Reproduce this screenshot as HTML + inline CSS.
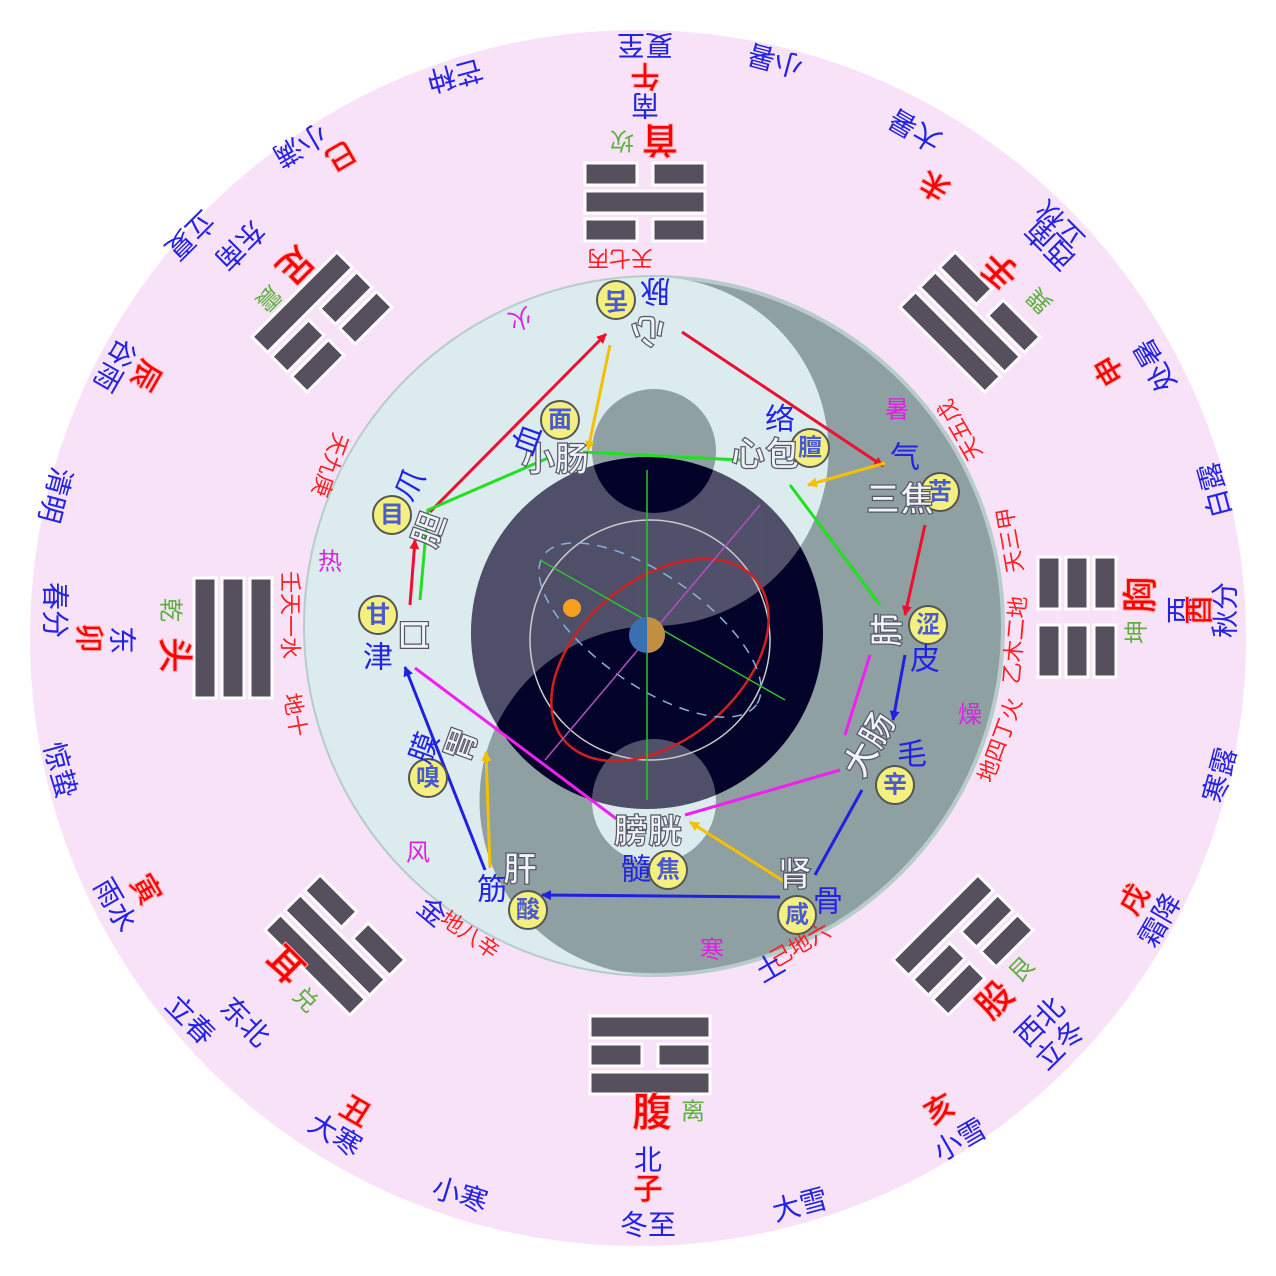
<!DOCTYPE html>
<html><head><meta charset="utf-8"><style>
html,body{margin:0;padding:0;background:#fff;}
svg{display:block;}
text{font-family:"Liberation Sans","Noto Sans CJK SC",sans-serif;}
.t{fill:#2323e6;font-size:28px;}
.b{fill:#ff0000;font-size:30px;font-weight:bold;stroke:#ffb0b0;stroke-width:1;}
.g{fill:#5fb040;font-size:24px;}
.m{fill:#e020e0;font-size:24px;}
.s{fill:#f0f4f8;font-size:34px;font-weight:bold;stroke:#556;stroke-width:1.2;}
.bd{fill:#f4f080;stroke:#555;stroke-width:2;}
.bt{fill:#4a5ad0;font-size:24px;font-weight:bold;}
.r2{fill:#ff2020;font-size:22px;}
</style></head><body>
<svg width="1276" height="1276" viewBox="0 0 1276 1276" xmlns="http://www.w3.org/2000/svg">
<defs>
<marker id="ar" markerWidth="10" markerHeight="10" refX="9" refY="5" orient="auto" markerUnits="userSpaceOnUse" viewBox="0 0 10 10"><path d="M0,0 L10,5 L0,10z" fill="#ee1030"/></marker>
<marker id="ay" markerWidth="10" markerHeight="10" refX="9" refY="5" orient="auto" viewBox="0 0 10 10" markerUnits="userSpaceOnUse"><path d="M0,0 L10,5 L0,10z" fill="#f5c000"/></marker>
<marker id="ab" markerWidth="10" markerHeight="10" refX="9" refY="5" orient="auto" viewBox="0 0 10 10" markerUnits="userSpaceOnUse"><path d="M0,0 L10,5 L0,10z" fill="#2020e0"/></marker>
<g id="full"><rect x="-60" y="-11" width="120" height="22" fill="#56505e" stroke="#fff" stroke-width="3"/></g>
<g id="brk"><rect x="-60" y="-11" width="52" height="22" fill="#56505e" stroke="#fff" stroke-width="3"/><rect x="8" y="-11" width="52" height="22" fill="#56505e" stroke="#fff" stroke-width="3"/></g>
<clipPath id="cc"><circle cx="647" cy="633" r="176"/></clipPath>
</defs>
<circle cx="638" cy="638" r="608" fill="#f8e2f8"/>
<circle cx="654" cy="626" r="349" fill="#8fa0a2" stroke="#b8cccc" stroke-width="4"/>
<path d="M654,277 A349,349 0 0 0 654,975 A174.5,174.5 0 0 1 654,626 A174.5,174.5 0 0 0 654,277Z" fill="#dcecee"/>
<circle cx="654" cy="451" r="62" fill="#8fa0a2"/>
<circle cx="654" cy="801" r="62" fill="#dcecee"/>
<circle cx="647" cy="633" r="176" fill="#04042a"/>
<g clip-path="url(#cc)" opacity="0.3">
<path d="M654,277 A349,349 0 0 0 654,975 A174.5,174.5 0 0 1 654,626 A174.5,174.5 0 0 0 654,277Z" fill="#fff"/>
<circle cx="654" cy="451" r="62" fill="#04042a"/>
<circle cx="654" cy="801" r="62" fill="#fff"/>
</g>
<circle cx="650" cy="640" r="120" fill="none" stroke="#ccc" stroke-width="1.5"/>
<ellipse cx="660" cy="660" rx="125" ry="80" transform="rotate(-40 660 660)" fill="none" stroke="#d02020" stroke-width="2.5"/>
<ellipse cx="650" cy="630" rx="130" ry="55" transform="rotate(35 650 630)" fill="none" stroke="#8ab0e0" stroke-width="1.5" stroke-dasharray="10 8"/>
<line x1="647" y1="470" x2="647" y2="800" stroke="#30c030" stroke-width="1.5"/>
<line x1="540" y1="560" x2="785" y2="700" stroke="#30c030" stroke-width="1.5"/>
<line x1="545" y1="760" x2="760" y2="505" stroke="#b050c0" stroke-width="1.5"/>
<circle cx="572" cy="608" r="9" fill="#f5a020"/>
<circle cx="647" cy="635" r="18" fill="#3a70b0"/><path d="M647,617 A18,18 0 0 1 647,653z" fill="#c09040"/>
<g transform="translate(650,1055)"><use href="#full" y="-28"/><use href="#brk"/><use href="#full" y="28"/></g>
<g transform="translate(645,202)"><use href="#brk" y="-28"/><use href="#full"/><use href="#brk" y="28"/></g>
<g transform="translate(233,638) rotate(90)"><use href="#full" y="-28"/><use href="#full"/><use href="#full" y="28"/></g>
<g transform="translate(1077,617) rotate(90)"><use href="#brk" y="-28"/><use href="#brk"/><use href="#brk" y="28"/></g>
<g transform="translate(322,322) rotate(135)"><use href="#brk" y="-28"/><use href="#brk"/><use href="#full" y="28"/></g>
<g transform="translate(970,322) rotate(-135)"><use href="#full" y="-28"/><use href="#full"/><use href="#brk" y="28"/></g>
<g transform="translate(335,945) rotate(45)"><use href="#brk" y="-28"/><use href="#full"/><use href="#full" y="28"/></g>
<g transform="translate(963,945) rotate(-45)"><use href="#full" y="-28"/><use href="#brk"/><use href="#brk" y="28"/></g>
<g class="t" text-anchor="middle" dominant-baseline="central">
<text x="648" y="1225">冬至</text>
<text x="460" y="1195" transform="rotate(17 460 1195)">小寒</text>
<text x="335" y="1135" transform="rotate(31 335 1135)">大寒</text>
<text x="190" y="1020" transform="rotate(45 190 1020)">立春</text>
<text x="115" y="905" transform="rotate(60 115 905)">雨水</text>
<text x="60" y="770" transform="rotate(75 60 770)">惊蛰</text>
<text x="55" y="610" transform="rotate(90 55 610)">春分</text>
<text x="55" y="495" transform="rotate(105 55 495)">清明</text>
<text x="115" y="365" transform="rotate(120 115 365)">谷雨</text>
<text x="190" y="235" transform="rotate(135 190 235)">立夏</text>
<text x="300" y="145" transform="rotate(150 300 145)">小满</text>
<text x="455" y="75" transform="rotate(165 455 75)">芒种</text>
<text x="645" y="45" transform="rotate(180 645 45)">夏至</text>
<text x="775" y="60" transform="rotate(195 775 60)">小暑</text>
<text x="915" y="130" transform="rotate(210 915 130)">大暑</text>
<text x="1060" y="225" transform="rotate(225 1060 225)">立秋</text>
<text x="1155" y="365" transform="rotate(240 1155 365)">处暑</text>
<text x="1215" y="490" transform="rotate(255 1215 490)">白露</text>
<text x="1225" y="610" transform="rotate(270 1225 610)">秋分</text>
<text x="1220" y="775" transform="rotate(285 1220 775)">寒露</text>
<text x="1160" y="920" transform="rotate(300 1160 920)">霜降</text>
<text x="1060" y="1045" transform="rotate(315 1060 1045)">立冬</text>
<text x="960" y="1140" transform="rotate(330 960 1140)">小雪</text>
<text x="800" y="1205" transform="rotate(345 800 1205)">大雪</text>
<text x="648" y="1160">北</text>
<text x="645" y="105" transform="rotate(180 645 105)">南</text>
<text x="122" y="640" transform="rotate(90 122 640)">东</text>
<text x="1180" y="610" transform="rotate(270 1180 610)">西</text>
<text x="240" y="245" transform="rotate(135 240 245)">东南</text>
<text x="1050" y="245" transform="rotate(225 1050 245)">西南</text>
<text x="245" y="1022" transform="rotate(45 245 1022)">东北</text>
<text x="1040" y="1022" transform="rotate(-45 1040 1022)">西北</text>
</g>
<g class="b" text-anchor="middle" dominant-baseline="central">
<text x="648" y="1190">子</text>
<text x="355" y="1112" transform="rotate(30 355 1112)">丑</text>
<text x="145" y="890" transform="rotate(60 145 890)">寅</text>
<text x="88" y="638" transform="rotate(90 88 638)">卯</text>
<text x="145" y="375" transform="rotate(120 145 375)">辰</text>
<text x="340" y="155" transform="rotate(150 340 155)">巳</text>
<text x="645" y="75" transform="rotate(180 645 75)">午</text>
<text x="935" y="185" transform="rotate(210 935 185)">未</text>
<text x="1110" y="370" transform="rotate(240 1110 370)">申</text>
<text x="1200" y="610" transform="rotate(270 1200 610)">酉</text>
<text x="1135" y="900" transform="rotate(300 1135 900)">戌</text>
<text x="940" y="1110" transform="rotate(330 940 1110)">亥</text>
<text x="652" y="1113" style="font-size:40px">腹</text>
<text x="660" y="140" transform="rotate(180 660 140)" style="font-size:36px">首</text>
<text x="175" y="655" transform="rotate(90 175 655)" style="font-size:36px">头</text>
<text x="1140" y="595" transform="rotate(270 1140 595)" style="font-size:36px">胸</text>
<text x="295" y="265" transform="rotate(135 295 265)" style="font-size:36px">足</text>
<text x="1000" y="270" transform="rotate(225 1000 270)" style="font-size:36px">手</text>
<text x="285" y="965" transform="rotate(45 285 965)" style="font-size:36px">耳</text>
<text x="995" y="1000" transform="rotate(-45 995 1000)" style="font-size:36px">股</text>
</g>
<g class="g" text-anchor="middle" dominant-baseline="central">
<text x="693" y="1112">离</text>
<text x="622" y="140" transform="rotate(180 622 140)">坎</text>
<text x="170" y="610" transform="rotate(90 170 610)">乾</text>
<text x="1137" y="632" transform="rotate(270 1137 632)">坤</text>
<text x="268" y="298" transform="rotate(135 268 298)">震</text>
<text x="1040" y="300" transform="rotate(225 1040 300)">巽</text>
<text x="305" y="1000" transform="rotate(45 305 1000)">兑</text>
<text x="1022" y="970" transform="rotate(-45 1022 970)">艮</text>
</g>
<g class="r2" text-anchor="middle" dominant-baseline="central">
<text x="330" y="465" transform="rotate(110 330 465)">天九庚</text>
<text x="620" y="258" transform="rotate(180 620 258)">天七丙</text>
<text x="960" y="430" transform="rotate(240 960 430)">天五戊</text>
<text x="1010" y="540" transform="rotate(260 1010 540)">天三甲</text>
<text x="1015" y="640" transform="rotate(275 1015 640)">乙木二地</text>
<text x="1000" y="740" transform="rotate(290 1000 740)">地四丁火</text>
<text x="800" y="945" transform="rotate(-30 800 945)">己地六</text>
<text x="470" y="935" transform="rotate(35 470 935)">地八辛</text>
<text x="295" y="715" transform="rotate(80 295 715)">地十</text>
<text x="290" y="615" transform="rotate(90 290 615)">壬天一水</text>
</g>
<g class="m" text-anchor="middle" dominant-baseline="central">
<text x="520" y="318" transform="rotate(160 520 318)">火</text>
<text x="330" y="562">热</text>
<text x="897" y="410">暑</text>
<text x="970" y="715">燥</text>
<text x="712" y="950">寒</text>
<text x="418" y="853">风</text>
</g>
<g class="t" text-anchor="middle" dominant-baseline="central">
<text x="432" y="912" transform="rotate(40 432 912)">金</text>
<text x="770" y="968" transform="rotate(-30 770 968)">土</text>
</g>
<g stroke-width="3" fill="none">
<line x1="430" y1="512" x2="606" y2="334" stroke="#ee1030" marker-end="url(#ar)"/>
<line x1="682" y1="332" x2="883" y2="466" stroke="#ee1030" marker-end="url(#ar)"/>
<line x1="925" y1="525" x2="905" y2="615" stroke="#ee1030" marker-end="url(#ar)"/>
<line x1="410" y1="605" x2="415" y2="540" stroke="#ee1030" marker-end="url(#ar)"/>
<line x1="610" y1="345" x2="588" y2="450" stroke="#f5c000" marker-end="url(#ay)"/>
<line x1="885" y1="463" x2="808" y2="485" stroke="#f5c000" marker-end="url(#ay)"/>
<line x1="785" y1="882" x2="690" y2="822" stroke="#f5c000" marker-end="url(#ay)"/>
<line x1="490" y1="868" x2="486" y2="752" stroke="#f5c000" marker-end="url(#ay)"/>
<polyline points="420,600 428,510 548,458" stroke="#20e020"/>
<line x1="583" y1="452" x2="740" y2="460" stroke="#20e020"/>
<line x1="790" y1="485" x2="880" y2="605" stroke="#20e020"/>
<line x1="415" y1="668" x2="618" y2="820" stroke="#f020f0"/>
<line x1="685" y1="815" x2="840" y2="770" stroke="#f020f0"/>
<line x1="870" y1="655" x2="845" y2="735" stroke="#f020f0"/>
<line x1="905" y1="655" x2="893" y2="720" stroke="#2020e0" marker-end="url(#ab)"/>
<line x1="862" y1="790" x2="815" y2="875" stroke="#2020e0"/>
<line x1="780" y1="897" x2="542" y2="895" stroke="#2020e0" marker-end="url(#ab)"/>
<line x1="485" y1="870" x2="405" y2="667" stroke="#2020e0" marker-end="url(#ab)"/>
</g>
<g>
<ellipse class="bd" cx="616" cy="300" rx="19" ry="19"/>
<ellipse class="bd" cx="560" cy="420" rx="19" ry="19"/>
<ellipse class="bd" cx="392" cy="515" rx="19" ry="19"/>
<ellipse class="bd" cx="378" cy="615" rx="19" ry="19"/>
<ellipse class="bd" cx="428" cy="778" rx="19" ry="19"/>
<ellipse class="bd" cx="528" cy="910" rx="19" ry="19"/>
<ellipse class="bd" cx="668" cy="870" rx="19" ry="19"/>
<ellipse class="bd" cx="797" cy="915" rx="19" ry="19"/>
<ellipse class="bd" cx="895" cy="785" rx="19" ry="19"/>
<ellipse class="bd" cx="928" cy="625" rx="19" ry="19"/>
<ellipse class="bd" cx="940" cy="492" rx="19" ry="19"/>
<ellipse class="bd" cx="810" cy="448" rx="19" ry="19"/>
</g>
<g class="bt" text-anchor="middle" dominant-baseline="central">
<text x="616" y="300" transform="rotate(180 616 300)">舌</text>
<text x="560" y="420">面</text>
<text x="392" y="515">目</text>
<text x="378" y="615">甘</text>
<text x="428" y="778">嗅</text>
<text x="528" y="910">酸</text>
<text x="668" y="870">焦</text>
<text x="797" y="915">咸</text>
<text x="895" y="785">辛</text>
<text x="928" y="625">涩</text>
<text x="940" y="492">苦</text>
<text x="810" y="448">膻</text>
</g>
<g class="s" text-anchor="middle" dominant-baseline="central">
<text x="648" y="330" transform="rotate(180 648 330)">心</text>
<text x="555" y="460">小肠</text>
<text x="430" y="530" transform="rotate(-70 430 530)">胆</text>
<text x="415" y="635" transform="rotate(-90 415 635)">口</text>
<text x="462" y="745" transform="rotate(-70 462 745)">胃</text>
<text x="520" y="870">肝</text>
<text x="648" y="832">膀胱</text>
<text x="795" y="875">肾</text>
<text x="870" y="745" transform="rotate(-60 870 745)">大肠</text>
<text x="888" y="630" transform="rotate(-90 888 630)">肺</text>
<text x="900" y="500">三焦</text>
<text x="765" y="455">心包</text>
</g>
<g class="t" text-anchor="middle" dominant-baseline="central" style="font-size:30px">
<text x="655" y="290" transform="rotate(180 655 290)">脉</text>
<text x="528" y="440" transform="rotate(-70 528 440)">血</text>
<text x="410" y="485" transform="rotate(-60 410 485)">爪</text>
<text x="378" y="658">津</text>
<text x="425" y="748" transform="rotate(-70 425 748)">膜</text>
<text x="492" y="890">筋</text>
<text x="636" y="870">髓</text>
<text x="828" y="902">骨</text>
<text x="912" y="755">毛</text>
<text x="925" y="660">皮</text>
<text x="905" y="458">气</text>
<text x="780" y="420">络</text>
</g>
</svg>
</body></html>
